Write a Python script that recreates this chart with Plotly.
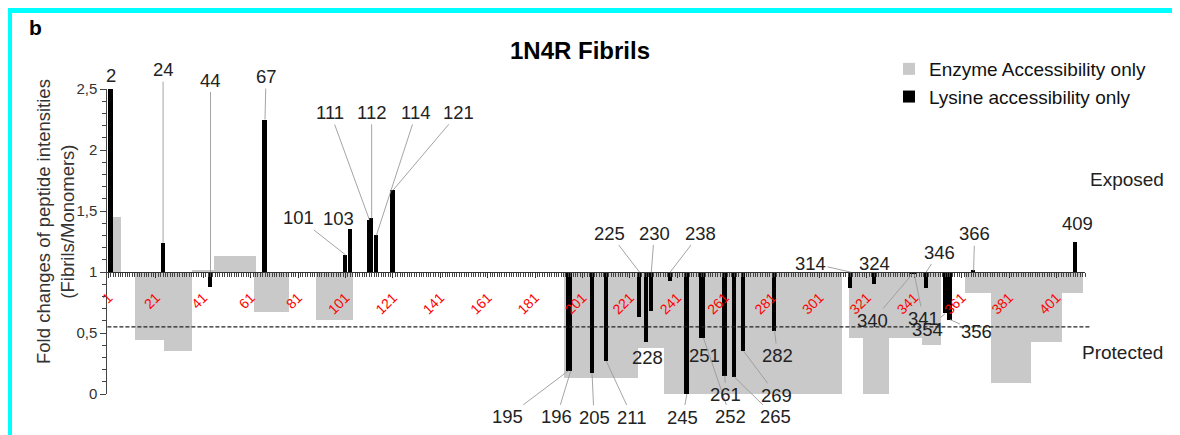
import plotly.graph_objects as go

# the page body adds an 8 px margin, so the figure is sized to the visible window
OFFSET = 8
W, H = 1180 - OFFSET, 435 - OFFSET
FONT = "Liberation Sans, Arial, sans-serif"

# peptides seen only by enzyme accessibility (residue span, fold change)
ENZYME_START = [2, 13, 25, 37, 46, 63, 89, 194, 225, 236, 314, 320, 345, 363, 374, 391]
ENZYME_END = [6, 36, 36, 45, 63, 77, 104, 224, 235, 310, 344, 330, 352, 412, 390, 403]
ENZYME_FOLD = [1.45, 0.44, 0.35, 1.02, 1.13, 0.67, 0.61, 0.13, 0.38, 0.0,
               0.46, 0.0, 0.40, 0.83, 0.09, 0.43]

# lysines seen only by lysine accessibility
LYSINE_RESIDUE = [2, 24, 44, 67, 101, 103, 111, 112, 114, 121, 195, 196, 205, 211,
                  225, 228, 230, 238, 245, 251, 252, 261, 265, 269, 282, 314, 324,
                  340, 341, 346, 354, 356, 366, 409]
LYSINE_FOLD = [2.50, 1.24, 0.88, 2.25, 1.14, 1.35, 1.43, 1.44, 1.30, 1.67, 0.19, 0.19,
               0.17, 0.27, 0.63, 0.43, 0.68, 0.93, 0.00, 0.46, 0.46, 0.15, 0.14, 0.35,
               0.52, 0.87, 0.90, 0.98, 0.98, 0.87, 0.66, 0.61, 1.01, 1.25]

X_TICKS = list(range(1, 402, 20))
Y_TICKS = [0, 0.5, 1, 1.5, 2, 2.5]
Y_TICK_TEXT = ["0", "0,5", "1", "1,5", "2", "2,5"]
THRESHOLD = 0.55
BASELINE = 1

# label placement: residue -> (attach to bar end or axis, dx px, dy px, leader line)
LABEL_POS = {
    2: ("end", 0, -14, False), 24: ("end", 0, -173, True), 44: ("axis", 0, -192, True),
    67: ("end", 1, -43, True), 101: ("end", -47, -37, True), 103: ("end", -12, -11, False),
    111: ("end", -39, -107, True), 112: ("end", 0, -106, True), 114: ("end", 40, -123, True),
    121: ("end", 66, -78, True), 195: ("end", -61, 46, True), 196: ("end", -14, 46, True),
    205: ("end", 2, 44, True), 211: ("end", 26, 56, True), 225: ("axis", -30, -39, True),
    228: ("end", 1, 16, False), 230: ("axis", 3, -39, True), 238: ("axis", 30, -39, True),
    245: ("end", -4, 23, True), 251: ("end", 3, 18, False), 252: ("end", 27, 79, True),
    261: ("end", 1, 19, True), 265: ("end", 41, 40, True), 269: ("end", 33, 44, True),
    282: ("end", 3, 25, True), 314: ("axis", -40, -9, True), 324: ("axis", 0, -9, False),
    340: ("end", -39, 46, True), 341: ("end", 9, 44, True), 346: ("axis", 13, -20, True),
    354: ("end", -18, 16, True), 356: ("end", 27, 12, True), 366: ("end", 1, -37, True),
    409: ("end", 2, -18, False),
}


def px(x):
    return (x - OFFSET) / W


def py(y):
    return 1 - (y - OFFSET) / H


x_dom = [px(107.4), px(1085)]
y_dom = [py(394), py(89)]
y_range = [0, 2.5]
axis_pos = y_dom[0] + (BASELINE - y_range[0]) / (y_range[1] - y_range[0]) * (y_dom[1] - y_dom[0])

fig = go.Figure()
fig.add_trace(
    go.Bar(
        x=[(s + e) / 2 for s, e in zip(ENZYME_START, ENZYME_END)],
        y=[v - BASELINE for v in ENZYME_FOLD],
        width=[e - s + 1 for s, e in zip(ENZYME_START, ENZYME_END)],
        base=BASELINE, name="Enzyme Accessibility only",
        marker={"color": "#c9c9c9", "line": {"width": 0}},
    )
)
fig.add_trace(
    go.Bar(
        x=LYSINE_RESIDUE,
        y=[v - BASELINE for v in LYSINE_FOLD],
        width=1.8, base=BASELINE, name="Lysine accessibility only",
        marker={"color": "#000000", "line": {"width": 0}},
    )
)

annotations = []
for res, fold in zip(LYSINE_RESIDUE, LYSINE_FOLD):
    where, dx, dy, leader = LABEL_POS[res]
    yv = fold if where == "end" else BASELINE
    common = dict(x=res, y=yv, xref="x", yref="y", text=str(res),
                  xanchor="center", yanchor="middle",
                  font={"family": FONT, "size": 18.5, "color": "#222"})
    if leader:
        annotations.append(dict(**common, showarrow=True, ax=dx, ay=dy, arrowhead=0,
                                arrowwidth=0.9, arrowcolor="#9a9a9a", standoff=0))
    else:
        annotations.append(dict(**common, showarrow=False, xshift=dx, yshift=-dy))


def paper_text(x, y, text, size, color="#222", **kw):
    return dict(x=px(x), y=py(y), xref="paper", yref="paper", text=text, showarrow=False,
                xanchor="center", yanchor="middle",
                font={"family": FONT, "size": size, "color": color}, **kw)


annotations += [
    paper_text(35, 27, "<b>b</b>", 21, "#000"),
    paper_text(580, 50, "<b>1N4R Fibrils</b>", 24, "#000"),
    paper_text(1127, 179, "Exposed", 19),
    paper_text(1122, 352, "Protected", 19),
    paper_text(55, 222, "Fold changes of peptide intensities<br>(Fibrils/Monomers)", 18.5,
               "#333", textangle=-90),
]

cyan = "#00ffff"
shapes = [
    dict(type="rect", xref="paper", yref="paper", x0=px(6), x1=1.01, y0=py(8), y1=py(13),
         fillcolor=cyan, line={"width": 0}),
    dict(type="rect", xref="paper", yref="paper", x0=px(6), x1=px(12), y0=py(8), y1=-0.01,
         fillcolor=cyan, line={"width": 0}),
    dict(type="rect", xref="paper", yref="paper", x0=px(1175), x1=1.01, y0=py(8), y1=-0.01,
         fillcolor=cyan, line={"width": 0}),
    dict(type="line", xref="x domain", yref="y", x0=0, x1=1.005, y0=THRESHOLD, y1=THRESHOLD,
         line={"color": "#222", "width": 1.3, "dash": "4px,2px"}),
]

fig.update_layout(
    width=W, height=H, autosize=False,
    margin={"l": 0, "r": 0, "t": 0, "b": 0, "pad": 0, "autoexpand": False},
    paper_bgcolor="white", plot_bgcolor="white",
    barmode="overlay", bargap=0,
    font={"family": FONT, "color": "#222"},
    annotations=annotations, shapes=shapes,
    legend={"x": px(889), "y": py(50), "xanchor": "left", "yanchor": "top",
            "font": {"family": FONT, "size": 19, "color": "#111"},
            "bgcolor": "rgba(0,0,0,0)", "tracegroupgap": 0},
    xaxis={
        "domain": x_dom, "range": [0.5, 413], "anchor": "free", "position": axis_pos,
        "showline": True, "linecolor": "#333", "linewidth": 1,
        "showgrid": False, "zeroline": False, "automargin": False,
        "tickmode": "array", "tickvals": X_TICKS, "ticktext": [str(t) for t in X_TICKS],
        "ticks": "outside", "ticklen": 5, "tickcolor": "#333", "tickangle": -45,
        "tickfont": {"family": FONT, "size": 14, "color": "#ff0000"},
        "ticklabelstandoff": 6,
        "minor": {"dtick": 1, "tick0": 0, "ticks": "outside", "ticklen": 4,
                  "tickcolor": "#444", "tickwidth": 1},
    },
    yaxis={
        "domain": y_dom, "range": y_range, "anchor": "x", "automargin": False,
        "showline": True, "linecolor": "#444", "linewidth": 1,
        "showgrid": False, "zeroline": False,
        "tickmode": "array", "tickvals": Y_TICKS, "ticktext": Y_TICK_TEXT,
        "ticks": "outside", "ticklen": 6, "tickcolor": "#444",
        "tickfont": {"family": FONT, "size": 15, "color": "#333"},
        "minor": {"dtick": 0.1, "ticks": "outside", "ticklen": 4, "tickcolor": "#444"},
    },
)

fig.write_html("out.html")
